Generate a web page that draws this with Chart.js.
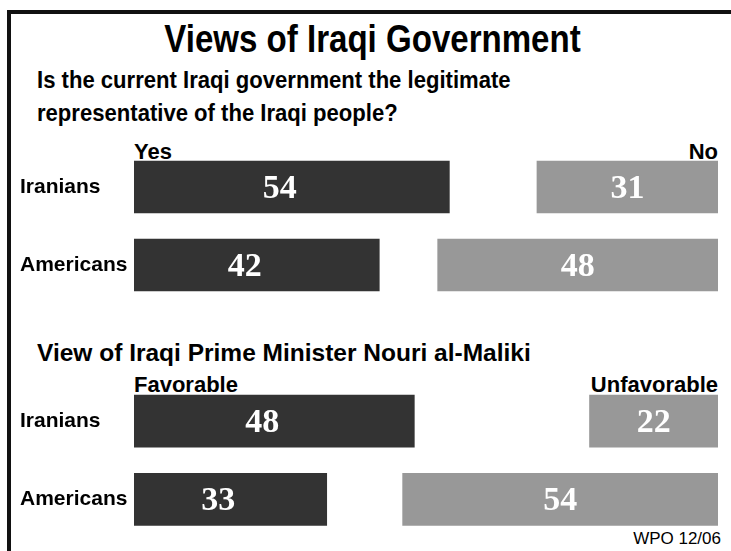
<!DOCTYPE html>
<html lang="en">
<head>
  <meta charset="UTF-8">
  <title>Views of Iraqi Government</title>
  <script src="https://cdn.jsdelivr.net/npm/chart.js"></script>
  <style>
    body {
      margin: 0;
      width: 731px;
      height: 551px;
      background: #fff;
      position: relative;
      overflow: hidden;
      font-family: 'Liberation Sans', Arial, sans-serif;
      font-weight: bold;
      color: #000;
    }
    .frame {
      position: absolute;
      left: 7px;
      top: 10px;
      width: 800px;
      height: 600px;
      border-left: 4px solid #111;
      border-top: 4px solid #111;
    }
    .txt {
      position: absolute;
      white-space: nowrap;
    }
    h1 {
      position: absolute;
      margin: 0;
      left: 14px;
      right: 0;
      top: 17px;
      text-align: center;
      font-size: 38px;
      line-height: 44px;
      transform: scaleX(0.87);
    }
    .q {
      font-size: 23px;
      line-height: 33px;
      transform: scaleX(0.96);
      transform-origin: left top;
    }
    .q2 {
      font-size: 24.5px;
      line-height: 30px;
    }
    .head {
      font-size: 22px;
      line-height: 26px;
    }
    .note {
      font-weight: normal;
      font-size: 17px;
      right: 10px;
      top: 529px;
    }
    canvas {
      position: absolute;
      left: 0;
    }
  </style>
</head>
<body>
  <div class="frame"></div>
  <h1>Views of Iraqi Government</h1>
  <div class="txt q" style="left:37px; top:64px;">Is the current Iraqi government the legitimate<br>representative of the Iraqi people?</div>
  <div class="txt head" style="left:134px; top:139px;">Yes</div>
  <div class="txt head" style="right:13px; top:139px;">No</div>

  <div class="txt q2" style="left:37px; top:338px;">View of Iraqi Prime Minister Nouri al-Maliki</div>
  <div class="txt head" style="left:134px; top:372px;">Favorable</div>
  <div class="txt head" style="right:13px; top:372px;">Unfavorable</div>
  <div class="txt note">WPO 12/06</div>

  <canvas id="legitChart" style="top:0;" width="731" height="320"></canvas>
  <canvas id="malikiChart" style="top:320px;" width="731" height="231"></canvas>

  <script>
    const groups = ['Iranians', 'Americans'];
    const legitYes = [54, 42];
    const legitNo = [31, 48];
    const malikiFav = [48, 33];
    const malikiUnfav = [22, 54];

    // white numbers inside each bar
    const barValues = {
      id: 'barValues',
      afterDatasetsDraw(chart) {
        const ctx = chart.ctx;
        ctx.save();
        ctx.fillStyle = '#fff';
        ctx.font = "bold 34px 'Liberation Serif', serif";
        ctx.textAlign = 'center';
        ctx.textBaseline = 'middle';
        chart.data.datasets.forEach((ds, i) => {
          chart.getDatasetMeta(i).data.forEach((bar, j) => {
            const shift = i === 0 ? -12 : 0;
            ctx.fillText(ds.values[j], (bar.x + bar.base) / 2 + shift, bar.y + 2);
          });
        });
        ctx.restore();
      }
    };

    function makeChart(id, left, right, padTop, padBottom) {
      return new Chart(document.getElementById(id), {
        type: 'bar',
        data: {
          labels: groups,
          datasets: [
            {
              values: left,
              data: left.map(v => [0, v]),
              backgroundColor: '#333333'
            },
            {
              values: right,
              data: right.map(v => [100 - v, 100]),
              backgroundColor: '#989898'
            }
          ]
        },
        options: {
          indexAxis: 'y',
          responsive: false,
          animation: false,
          grouped: false,
          barThickness: 52,
          layout: { padding: { left: 20, right: 13, top: padTop, bottom: padBottom } },
          plugins: {
            legend: { display: false },
            tooltip: { enabled: false }
          },
          scales: {
            x: { min: 0, max: 100, display: false },
            y: {
              grid: { display: false },
              border: { display: false },
              afterFit(scale) { scale.width = 114; },
              ticks: {
                crossAlign: 'far',
                color: '#000',
                padding: 0,
                font: { family: "'Liberation Sans', Arial, sans-serif", size: 21, weight: 'bold' }
              }
            }
          }
        },
        plugins: [barValues]
      });
    }

    makeChart('legitChart', legitYes, legitNo, 148, 16);
    makeChart('malikiChart', malikiFav, malikiUnfav, 62, 12);
  </script>
</body>
</html>
